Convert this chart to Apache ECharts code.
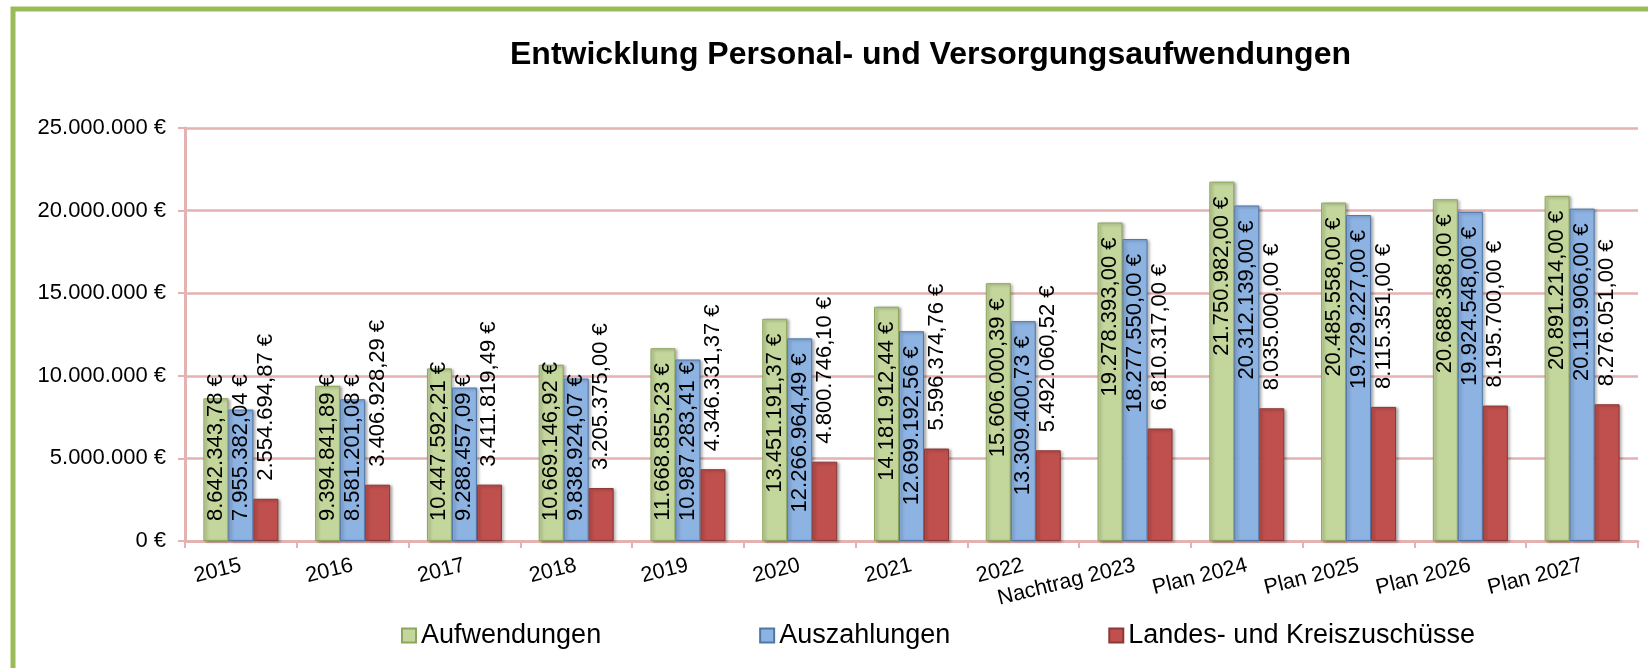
<!DOCTYPE html>
<html>
<head>
<meta charset="utf-8">
<script src="https://cdn.jsdelivr.net/npm/echarts@6/dist/echarts.min.js"></script>
<style>
  html, body { margin: 0; padding: 0; background: #fff; }
  #main { width: 1648px; height: 668px; }
</style>
</head>
<body>
<div id="main"></div>
<script>
// Kategorien (x-Achse)
var jahre = ['2015', '2016', '2017', '2018', '2019', '2020', '2021', '2022',
  'Nachtrag 2023', 'Plan 2024', 'Plan 2025', 'Plan 2026', 'Plan 2027'];

// Werte je Reihe
var aufwendungen = [8642343.78, 9394841.89, 10447592.21, 10669146.92, 11668855.23, 13451191.37,
  14181912.44, 15606000.39, 19278393.00, 21750982.00, 20485558.00, 20688368.00, 20891214.00];
var auszahlungen = [7955382.04, 8581201.08, 9288457.09, 9838924.07, 10987283.41, 12266964.49,
  12699192.56, 13309400.73, 18277550.00, 20312139.00, 19729227.00, 19924548.00, 20119906.00];
var zuschuesse = [2554694.87, 3406928.29, 3411819.49, 3205375.00, 4346331.37, 4800746.10,
  5596374.76, 5492060.52, 6810317.00, 8035000.00, 8115351.00, 8195700.00, 8276051.00];

var reihenNamen = ['Aufwendungen', 'Auszahlungen', 'Landes- und Kreiszuschüsse'];
var yMax = 25000000, yStep = 5000000;

var FONT = 'Liberation Sans';

// 1234567.8 -> "1.234.567,80 €"
function euro(v, decimals) {
  var parts = v.toFixed(decimals).split('.');
  var ganz = parts[0].replace(/\B(?=(\d{3})+(?!\d))/g, '.');
  return ganz + (parts.length > 1 ? ',' + parts[1] : '') + ' €';
}

// Beschriftung innen: bei hohen Balken oben, sonst vom Fuss aus (wie Excel)
function innenDaten(werte) {
  return werte.map(function (v) {
    if (v >= 11200000) {
      return { value: v, label: { position: 'insideTop', align: 'right', distance: 15 } };
    }
    return { value: v, label: { position: 'insideBottom', align: 'left', distance: 20 } };
  });
}

var myChart = echarts.init(document.getElementById('main'));

var labelBasis = {
  show: true,
  rotate: 90,
  verticalAlign: 'middle',
  color: '#000',
  fontFamily: FONT,
  fontSize: 22,
  formatter: function (p) { return euro(p.value, 2); }
};

var schatten = { shadowBlur: 3, shadowColor: 'rgba(0,0,0,0.35)', shadowOffsetX: 2, shadowOffsetY: 1 };

var option = {
  animation: false,
  title: {
    text: 'Entwicklung Personal- und Versorgungsaufwendungen',
    left: 505,
    top: 34,
    textStyle: { fontFamily: FONT, fontSize: 32, fontWeight: 'bold', color: '#000' }
  },
  graphic: [{
    type: 'rect',
    shape: { x: 13, y: 9, width: 1700, height: 720 },
    style: { fill: 'none', stroke: '#9bbb59', lineWidth: 5 },
    silent: true
  }],
  legend: {
    data: reihenNamen,
    left: 396,
    top: 617,
    icon: 'rect',
    itemWidth: 14,
    itemHeight: 14,
    itemGap: 158,
    textStyle: { fontFamily: FONT, fontSize: 27, color: '#000' }
  },
  grid: { left: 185, right: 10, top: 128, bottom: 127 },
  xAxis: {
    type: 'category',
    data: jahre,
    axisLine: { lineStyle: { color: '#e4b2b1', width: 3 } },
    axisTick: { show: true, length: 7, lineStyle: { color: '#e4b2b1', width: 2 } },
    axisLabel: {
      interval: 0,
      rotate: 14,
      margin: 24,
      color: '#000',
      fontFamily: FONT,
      fontSize: 21.5
    }
  },
  yAxis: {
    type: 'value',
    min: 0,
    max: yMax,
    interval: yStep,
    axisLine: { show: true, lineStyle: { color: '#e4b2b1', width: 3 } },
    axisTick: { show: true, length: 7, lineStyle: { color: '#e4b2b1', width: 2 } },
    splitLine: { lineStyle: { color: '#e4b2b1', width: 2.5 } },
    axisLabel: {
      margin: 19,
      color: '#000',
      fontFamily: FONT,
      fontSize: 22,
      formatter: function (v) { return euro(v, 0); }
    }
  },
  series: [
    {
      name: reihenNamen[0],
      type: 'bar',
      barWidth: 25,
      barGap: '0%',
      data: innenDaten(aufwendungen),
      itemStyle: Object.assign({ color: '#c3d69b', borderColor: '#8ea65a', borderWidth: 1 }, schatten),
      label: labelBasis
    },
    {
      name: reihenNamen[1],
      type: 'bar',
      barWidth: 25,
      barGap: '0%',
      data: innenDaten(auszahlungen),
      itemStyle: Object.assign({ color: '#8db3e2', borderColor: '#4f76a8', borderWidth: 1 }, schatten),
      label: labelBasis
    },
    {
      name: reihenNamen[2],
      type: 'bar',
      barWidth: 25,
      barGap: '0%',
      data: zuschuesse,
      itemStyle: Object.assign({ color: '#c0504d', borderColor: '#8c3836', borderWidth: 1 }, schatten),
      label: Object.assign({}, labelBasis, { position: 'top', align: 'left', distance: 18 })
    }
  ]
};

myChart.setOption(option);
</script>
</body>
</html>
